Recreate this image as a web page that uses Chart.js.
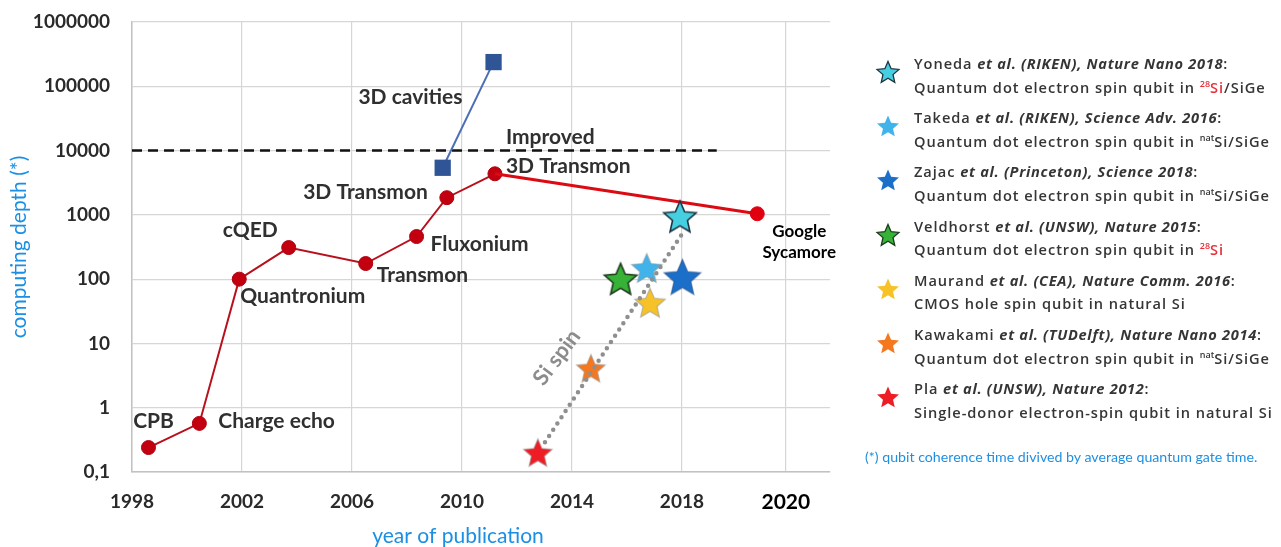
<!DOCTYPE html>
<html>
<head>
<meta charset="utf-8">
<title>Computing depth of superconducting and silicon spin qubits</title>
<script src="https://cdn.jsdelivr.net/npm/chart.js@4.4.1/dist/chart.umd.min.js"></script>
<style>
  html, body { margin: 0; padding: 0; background: #fff; }
  #page { position: relative; width: 1281px; height: 547px; overflow: hidden; font-family: Lato, "Open Sans", sans-serif; }
  #chart { position: absolute; left: 0; top: 0; }
  .ref { position: absolute; left: 914px; white-space: nowrap; font-family: "Open Sans", Lato, sans-serif; font-size: 14.6px; font-weight: 600; letter-spacing: 0.95px; color: #353535; line-height: 18px; }
  .ref i { font-weight: 700; letter-spacing: 0.7px; }
  .iso { font-size: 9px; position: relative; top: -6px; letter-spacing: 0; }
  .red { color: #e8303a; }
  .lstar { position: absolute; }
  #note { position: absolute; left: 865px; top: 448px; font-size: 14.2px; color: #1f8fe0; white-space: nowrap; line-height: 18px; }
</style>
</head>
<body>
<div id="page">
  <canvas id="chart" width="1281" height="547"></canvas>
  <div id="legend"></div>
  <div id="note">(*) qubit coherence time divived by average quantum gate time.</div>
</div>
<script>
// ---- superconducting qubits (Cooper-pair box to 3D transmon) ----
const transmonYears = [1998.6, 2000.45, 2001.9, 2003.7, 2006.5, 2008.35, 2009.45, 2011.2];
const transmonDepth = [0.24, 0.57, 100, 310, 175, 460, 1850, 4350];
const transmonNames = ['CPB', 'Charge echo', 'Quantronium', 'cQED', 'Transmon', 'Fluxonium', '3D Transmon', 'Improved\n3D Transmon'];

// ---- Google Sycamore ----
const sycamoreYear = 2019.45;
const sycamoreDepth = 1040;
const sycamoreName = 'Google\nSycamore';

// ---- 3D cavities ----
const cavityYears = [2009.3, 2011.15];
const cavityDepth = [5400, 238000];
const cavityName = '3D cavities';

// ---- threshold line ----
const thresholdYears = [1998, 2018.67];
const thresholdDepth = 10000;

// ---- silicon spin qubits ----
const spinAuthors = ['Yoneda', 'Takeda', 'Zajac', 'Veldhorst', 'Maurand', 'Kawakami', 'Pla'];
const spinYears = [2017.93, 2016.72, 2018.01, 2015.77, 2016.84, 2014.69, 2012.76];
const spinDepth = [944, 149, 108, 101, 43, 4.1, 0.2];
const spinSources = ['(RIKEN), Nature Nano 2018', '(RIKEN), Science Adv. 2016', '(Princeton), Science 2018',
                     '(UNSW), Nature 2015', '(CEA), Nature Comm. 2016', '(TUDelft), Nature Nano 2014', '(UNSW), Nature 2012'];
const spinDevices = ['Quantum dot electron spin qubit in', 'Quantum dot electron spin qubit in', 'Quantum dot electron spin qubit in',
                     'Quantum dot electron spin qubit in', 'CMOS hole spin qubit in natural Si', 'Quantum dot electron spin qubit in',
                     'Single-donor electron-spin qubit in natural Si'];
const spinIsotopes = ['28', 'nat', 'nat', '28', '', 'nat', ''];
const spinHosts = ['Si', 'Si', 'Si', 'Si', '', 'Si', ''];
const spinBarriers = ['/SiGe', '/SiGe', '/SiGe', '', '', '/SiGe', ''];

// ---- Si spin trend ----
const trendYears = [2013.02, 2018.06];
const trendDepth = [0.29, 590];
const trendName = 'Si spin';

// ---- axes ----
const xTickYears = [1998, 2002, 2006, 2010, 2014, 2018, 2020];
const xTickLabels = ['1998', '2002', '2006', '2010', '2014', '2018', '2020'];
const yTickValues = [0.1, 1, 10, 100, 1000, 10000, 100000, 1000000];
const yTickLabels = ['0,1', '1', '10', '100', '1000', '10000', '100000', '1000000'];
const xTitle = 'year of publication';
const yTitle = 'computing depth (*)';

// star styles for the spin qubits (same order as spinAuthors)
const starFill = ['#46cfe0', '#3fb3ea', '#1b6fc8', '#36b236', '#f6c227', '#f5781f', '#ee1d25'];
const starEdge = ['#1e3442', 'rgba(150,150,150,0.55)', 'rgba(40,70,120,0.5)', '#1d3a1d', 'rgba(150,150,150,0.6)', 'rgba(150,150,150,0.6)', 'rgba(150,150,150,0.6)'];
const starSize = [17, 16, 19.5, 17, 16, 15, 15];

function starPath(g, cx, cy, R, inner) {
  g.beginPath();
  for (let i = 0; i < 10; i++) {
    const r = i % 2 ? R * inner : R;
    const a = -Math.PI / 2 + i * Math.PI / 5;
    g.lineTo(cx + r * Math.cos(a), cy + r * Math.sin(a));
  }
  g.closePath();
}
function starImage(R, fill, edge, lw) {
  const s = Math.ceil(2 * R + lw + 4);
  const c = document.createElement('canvas');
  c.width = s; c.height = s;
  const g = c.getContext('2d');
  starPath(g, s / 2, s / 2 + R * 0.09, R, 0.46);
  g.fillStyle = fill; g.fill();
  g.lineWidth = lw; g.strokeStyle = edge; g.lineJoin = 'miter'; g.stroke();
  return c;
}
const starImages = spinAuthors.map((_, i) => starImage(starSize[i], starFill[i], starEdge[i], (i === 0 || i === 3) ? 1.6 : 1.2));

// year axis: 1998-2018 evenly spaced, then the 2018-2020 stretch is drawn wider
function warpYear(y) {
  return y <= 2018 ? y - 1998 : 20 + (y - 2018) * 1.89;
}
class YearScale extends Chart.LinearScale {
  static id = 'year';
  static defaults = Chart.LinearScale.defaults;
  getPixelForValue(value) {
    if (value === null || isNaN(value)) return NaN;
    const a = warpYear(this.min), b = warpYear(this.max);
    return this.getPixelForDecimal((warpYear(value) - a) / (b - a));
  }
  getValueForPixel(pixel) {
    const a = warpYear(this.min), b = warpYear(this.max);
    const u = a + this.getDecimalForPixel(pixel) * (b - a);
    return u <= 20 ? 1998 + u : 2018 + (u - 20) / 1.89;
  }
}
Chart.register(YearScale);

const pts = (xs, ys) => xs.map((x, i) => ({ x, y: Array.isArray(ys) ? ys[i] : ys }));

// name labels placed next to their points
const labelSpecs = [
  { ds: 'transmon', i: 0, dx: 5, dy: -26, align: 'center' },
  { ds: 'transmon', i: 1, dx: 19, dy: -2, align: 'left' },
  { ds: 'transmon', i: 2, dx: 1, dy: 17, align: 'left' },
  { ds: 'transmon', i: 3, dx: -11, dy: -17, align: 'right' },
  { ds: 'transmon', i: 4, dx: 11, dy: 12, align: 'left' },
  { ds: 'transmon', i: 5, dx: 14, dy: 8, align: 'left' },
  { ds: 'transmon', i: 6, dx: -19, dy: -5, align: 'right' },
  { ds: 'transmon', i: 7, dx: 11, dy: -37, align: 'left', lh: 29 },
  { ds: 'cavity', i: 1, dx: -31, dy: 35, align: 'right' },
  { ds: 'sycamore', i: 1, dx: 42, dy: 18, align: 'center', lh: 21, color: '#000', size: 17 }
];
const labelText = {
  transmon: i => transmonNames[i],
  cavity: () => cavityName,
  sycamore: () => sycamoreName
};

const pointLabels = {
  id: 'pointLabels',
  afterDatasetsDraw(chart) {
    const ctx = chart.ctx;
    const area = chart.chartArea;
    const metaById = {};
    chart.data.datasets.forEach((d, k) => { metaById[d.id] = chart.getDatasetMeta(k); });
    ctx.save();
    ctx.textBaseline = 'middle';
    for (const s of labelSpecs) {
      const el = metaById[s.ds].data[s.i];
      ctx.font = `700 ${s.size || 21}px Lato`;
      ctx.fillStyle = s.color || '#303030';
      ctx.textAlign = s.align;
      labelText[s.ds](s.i).split('\n').forEach((line, k) => {
        ctx.fillText(line, el.x + s.dx, el.y + s.dy + k * (s.lh || 0));
      });
    }
    // x axis title, set a little left of the plot centre
    ctx.font = '21px Lato';
    ctx.fillStyle = '#1a8fe3';
    ctx.textAlign = 'center';
    ctx.fillText(xTitle, (area.left + area.right) / 2 - 23, area.bottom + 64);

    // trend label, written along the dotted line
    const tm = metaById.trend.data;
    const p0 = tm[0], p1 = tm[1];
    const len = Math.hypot(p1.x - p0.x, p1.y - p0.y);
    const ux = (p1.x - p0.x) / len, uy = (p1.y - p0.y) / len;
    const t = 0.304, off = 36.7;
    const lx = p0.x + t * (p1.x - p0.x) - Math.abs(uy) * off;
    const ly = p0.y + t * (p1.y - p0.y) - Math.abs(ux) * off;
    ctx.translate(lx, ly);
    ctx.rotate(-53 * Math.PI / 180);
    ctx.font = '700 22px Lato';
    ctx.fillStyle = '#8c8c8c';
    ctx.fillText(trendName, 0, 0);
    ctx.restore();
  }
};

new Chart(document.getElementById('chart'), {
  type: 'line',
  data: {
    datasets: [
      { id: 'trend', data: pts(trendYears, trendDepth), order: 1,
        borderColor: '#8f8f8f', borderWidth: 4.5, borderDash: [0, 7.5], borderCapStyle: 'round',
        pointRadius: 0, fill: false },
      { id: 'spin', data: pts(spinYears, spinDepth), order: 2, showLine: false,
        pointStyle: c => starImages[c.dataIndex], pointRadius: 12 },
      { id: 'sycamore', data: [{ x: transmonYears[7], y: transmonDepth[7] }, { x: sycamoreYear, y: sycamoreDepth }], order: 3,
        borderColor: '#dc0a12', borderWidth: 3, pointRadius: [0, 7], pointBorderWidth: 1,
        pointBackgroundColor: '#e0000f', pointBorderColor: '#e0000f' },
      { id: 'transmon', data: pts(transmonYears, transmonDepth), order: 4,
        borderColor: '#b8101c', borderWidth: 2, pointRadius: 7, pointBorderWidth: 1,
        pointBackgroundColor: '#c20010', pointBorderColor: '#b00010' },
      { id: 'cavity', data: pts(cavityYears, cavityDepth), order: 5,
        borderColor: '#4d6fb5', borderWidth: 2, pointStyle: 'rect', pointRadius: 11.5, pointBorderWidth: 0,
        pointBackgroundColor: '#2f5597', pointBorderColor: '#2f5597' },
      { id: 'threshold', data: pts(thresholdYears, thresholdDepth), order: 6,
        borderColor: '#111', borderWidth: 2.6, borderDash: [10, 6], pointRadius: 0 }
    ]
  },
  options: {
    responsive: false,
    animation: false,
    devicePixelRatio: 1,
    layout: { padding: { left: 0, top: 22, right: 451, bottom: 0 } },
    plugins: { legend: { display: false }, tooltip: { enabled: false } },
    scales: {
      x: {
        type: 'year', min: 1998, max: 2020.85, bounds: 'data',
        afterBuildTicks: s => { s.ticks = xTickYears.map(v => ({ value: v })); },
        afterFit: s => { s.height = 75; s.paddingLeft = 0; s.paddingRight = 0; },
        grid: { color: '#d6d6d6', lineWidth: 1.2, drawTicks: false },
        border: { color: '#c2c2c2', width: 1.5 },
        ticks: {
          autoSkip: false, maxRotation: 0, padding: 18,
          callback: (v, i) => xTickLabels[i],
          color: c => (c.tick && c.tick.value === 2020) ? '#000' : '#2a2a2a',
          font: c => ({ family: 'Lato', weight: 'bold', size: (c.tick && c.tick.value === 2020) ? 21 : 19 })
        }
      },
      y: {
        type: 'logarithmic', min: 0.1, max: 1000000,
        afterBuildTicks: s => { s.ticks = yTickValues.map(v => ({ value: v })); },
        afterFit: s => { s.width = 132; s.paddingTop = 0; s.paddingBottom = 0; },
        grid: { color: '#d6d6d6', lineWidth: 1.2, drawTicks: false },
        border: { color: '#c2c2c2', width: 1.5 },
        ticks: {
          autoSkip: false, padding: 22,
          callback: (v, i) => yTickLabels[i],
          color: '#2a2a2a',
          font: { family: 'Lato', weight: 'bold', size: 19 }
        },
        title: { display: true, text: yTitle, color: '#1a8fe3',
                 font: { family: 'Lato', size: 21 }, padding: { top: 7, bottom: 0 } }
      }
    }
  },
  plugins: [pointLabels]
});

// ---- reference list for the spin qubits ----
const legendEl = document.getElementById('legend');
spinAuthors.forEach((name, i) => {
  const top = 63 + i * 54.2;
  const svgNS = 'http://www.w3.org/2000/svg';
  const svg = document.createElementNS(svgNS, 'svg');
  svg.setAttribute('width', 28); svg.setAttribute('height', 28);
  svg.setAttribute('class', 'lstar');
  svg.style.left = (888 - 14) + 'px';
  svg.style.top = (top + 9 - 14) + 'px';
  const poly = document.createElementNS(svgNS, 'polygon');
  const R = 11.5, p = [];
  for (let k = 0; k < 10; k++) {
    const r = k % 2 ? R * 0.46 : R;
    const a = -Math.PI / 2 + k * Math.PI / 5;
    p.push((14 + r * Math.cos(a)).toFixed(2) + ',' + (15 + r * Math.sin(a)).toFixed(2));
  }
  poly.setAttribute('points', p.join(' '));
  poly.setAttribute('fill', starFill[i]);
  if (i === 0 || i === 3) { poly.setAttribute('stroke', starEdge[i]); poly.setAttribute('stroke-width', '1.3'); }
  svg.appendChild(poly);
  legendEl.appendChild(svg);

  const l1 = document.createElement('div');
  l1.className = 'ref';
  l1.style.top = (top - 9) + 'px';
  l1.innerHTML = `${name} <i>et al. ${spinSources[i]}</i>:`;
  legendEl.appendChild(l1);

  const l2 = document.createElement('div');
  l2.className = 'ref';
  l2.style.top = (top + 23.5 - 9) + 'px';
  let html = spinDevices[i];
  if (spinIsotopes[i]) {
    const enriched = spinIsotopes[i] === '28';
    html += ` <span class="${enriched ? 'red' : ''}"><span class="iso">${spinIsotopes[i]}</span>${spinHosts[i]}</span>${spinBarriers[i]}`;
  }
  l2.innerHTML = html;
  legendEl.appendChild(l2);
});
</script>
</body>
</html>
